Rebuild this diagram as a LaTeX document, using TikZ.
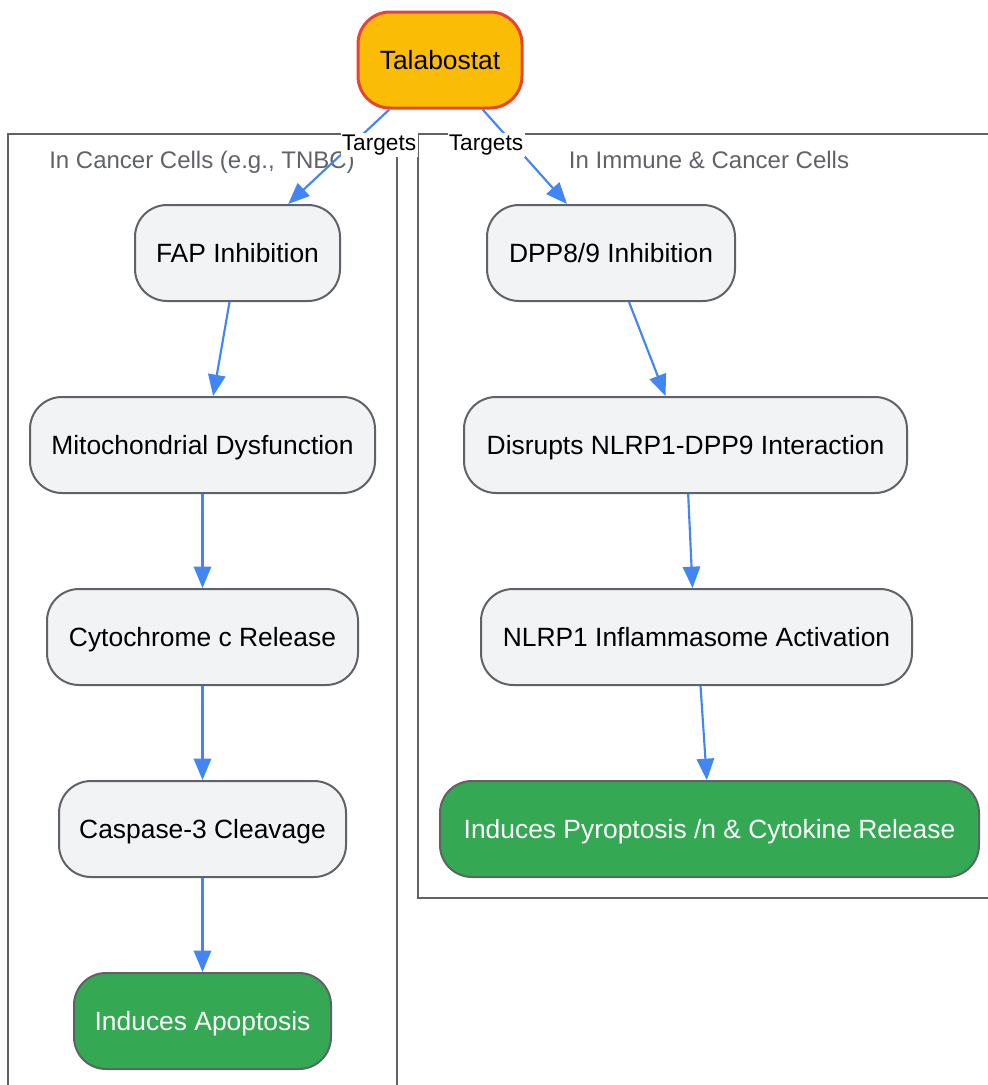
\documentclass[tikz,border=0pt]{standalone}
\usepackage{fontspec}
\setmainfont{Liberation Sans}
\usetikzlibrary{arrows.meta}

\begin{document}
\begin{tikzpicture}[x=0.75pt,y=0.75pt,yscale=-1,xscale=1,
  stepbox/.style={draw={rgb, 255:red, 95; green, 99; blue, 104 }, line width=1.5pt, fill={rgb, 255:red, 241; green, 243; blue, 244 }, rounded corners=24pt, minimum height=72pt, inner sep=0pt, text height=14.2pt, text depth=0pt, font=\fontsize{19.8}{24}\selectfont, text=black},
  endbox/.style={stepbox, fill={rgb, 255:red, 52; green, 168; blue, 83 }, text=white},
  drugbox/.style={stepbox, draw={rgb, 255:red, 234; green, 67; blue, 53 }, line width=2.25pt, fill={rgb, 255:red, 251; green, 188; blue, 5 }},
  cluster/.style={draw={rgb, 255:red, 95; green, 99; blue, 104 }, line width=1.8pt},
  clusterlabel/.style={inner sep=0pt, text height=12.9pt, text depth=0pt, font=\fontsize{18}{22}\selectfont, text={rgb, 255:red, 95; green, 99; blue, 104 }},
  link/.style={draw={rgb, 255:red, 66; green, 133; blue, 244 }, line width=1.6pt, -{Triangle[length=16pt,width=13pt]}},
  linklabel/.style={fill=white, inner sep=1pt, text height=12.2pt, text depth=3.5pt, font=\fontsize{17}{20}\selectfont, text=black}]
\useasboundingbox (0,0) rectangle (988,1085);

%Shape: Rectangle [clusters]
\draw [cluster] (8,134) rectangle (397,1100) ;
\draw [cluster] (418,134) rectangle (1000,898) ;
% Text Node
\node [clusterlabel] (cancerlbl) at (202,160) {In Cancer Cells (e.g., TNBC)};
\node [clusterlabel] (immunelbl) at (709,160) {In Immune \& Cancer Cells};

% Text Node
\node [drugbox, minimum width=123pt] (tala) at (440,60) {Talabostat};

% Text Node
\node [stepbox, minimum width=153.75pt] (fap) at (237.5,253) {FAP Inhibition};
\node [stepbox, minimum width=258.75pt] (mito) at (202.5,445) {Mitochondrial Dysfunction};
\node [stepbox, minimum width=233.25pt] (cyto) at (202.5,637) {Cytochrome c Release};
\node [stepbox, minimum width=215.25pt] (casp) at (202.5,829) {Caspase-3 Cleavage};
\node [endbox, minimum width=192.75pt] (apop) at (202.5,1021) {Induces Apoptosis};

% Text Node
\node [stepbox, minimum width=186pt] (dpp) at (611,253) {DPP8/9 Inhibition};
\node [stepbox, minimum width=332.25pt] (disrupt) at (685.5,445) {Disrupts NLRP1-DPP9 Interaction};
\node [stepbox, minimum width=323.25pt] (nlrp) at (696.5,637) {NLRP1 Inflammasome Activation};
\node [endbox, minimum width=404.25pt] (pyro) at (709.5,829) {Induces Pyroptosis /n \& Cytokine Release};

%Straight Lines [links]
\draw [link] ([xshift=-38pt]tala.south) -- ([xshift=38pt]fap.north) ;
\draw [link] ([xshift=32pt]tala.south) -- ([xshift=-33pt]dpp.north) ;
\draw [link] ([xshift=-6pt]fap.south) -- ([xshift=8pt]mito.north) ;
\draw [link] (mito) -- (cyto) ;
\draw [link] (cyto) -- (casp) ;
\draw [link] (casp) -- (apop) ;
\draw [link] ([xshift=13.5pt]dpp.south) -- ([xshift=-15pt]disrupt.north) ;
\draw [link] ([xshift=2pt]disrupt.south) -- ([xshift=-3pt]nlrp.north) ;
\draw [link] ([xshift=3pt]nlrp.south) -- ([xshift=-2pt]pyro.north) ;

% Text Node
\node [linklabel] (tgtleft) at (379,145) {Targets};
\node [linklabel] (tgtright) at (486,145) {Targets};

\end{tikzpicture}
\end{document}
